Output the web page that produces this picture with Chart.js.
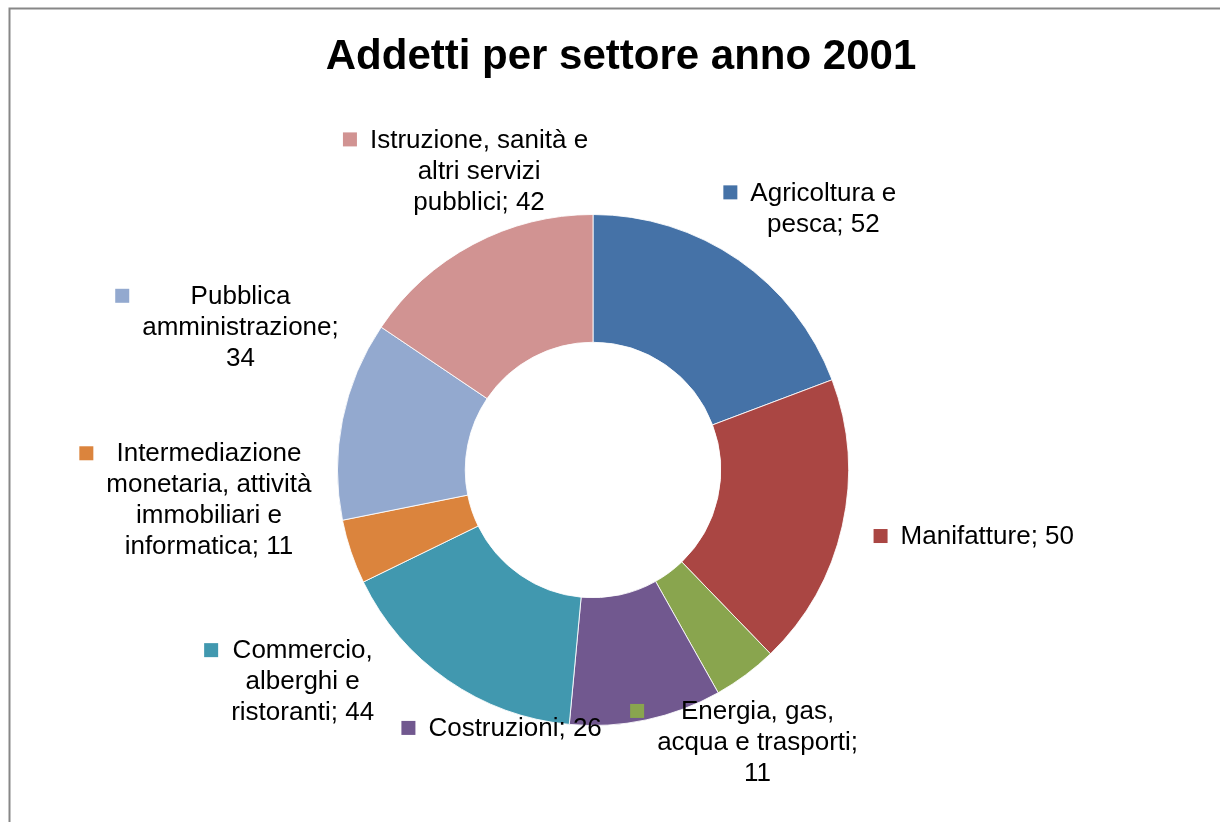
<!DOCTYPE html>
<html>
<head>
<meta charset="utf-8">
<script src="https://cdn.jsdelivr.net/npm/chart.js@4"></script>
<style>
  html, body { margin: 0; padding: 0; background: #fff; }
  #wrap { width: 1220px; height: 822px; position: relative; }
</style>
</head>
<body>
<div id="wrap"><canvas id="pieChart" width="1220" height="822"></canvas></div>
<script>
// Dati del grafico
const titleText = 'Addetti per settore anno 2001';
const categories = [
    'Agricoltura e pesca',
    'Manifatture',
    'Energia, gas, acqua e trasporti',
    'Costruzioni',
    'Commercio, alberghi e ristoranti',
    'Intermediazione monetaria, attività immobiliari e informatica',
    'Pubblica amministrazione',
    'Istruzione, sanità e altri servizi pubblici',
];
const values = [52, 50, 11, 26, 44, 11, 34, 42];
// etichette spezzate su piÃ¹ righe, {v} = valore
const labelLines = [
    ['Agricoltura e', 'pesca; {v}'],
    ['Manifatture; {v}'],
    ['Energia, gas,', 'acqua e trasporti;', '{v}'],
    ['Costruzioni; {v}'],
    ['Commercio,', 'alberghi e', 'ristoranti; {v}'],
    ['Intermediazione', 'monetaria, attività', 'immobiliari e', 'informatica; {v}'],
    ['Pubblica', 'amministrazione;', '{v}'],
    ['Istruzione, sanità e', 'altri servizi', 'pubblici; {v}'],
];
const colors = ['#4572A7', '#AA4643', '#89A54E', '#71588F', '#4198AF', '#DB843D', '#93A9CF', '#D19392'];

// spostamento delle etichette rispetto al bordo esterno della fetta
const labelOffsets = [[85, -52], [145, 10], [12, 67], [-131, 8], [-145, 1], [-142, -52], [-102, -93], [6, -74]];

const FONT = '"Liberation Sans", Arial, sans-serif';

const framePlugin = {
    id: 'frame',
    beforeDraw(chart) {
        const ctx = chart.ctx;
        ctx.save();
        ctx.strokeStyle = '#878787';
        ctx.lineWidth = 2;
        ctx.beginPath();
        ctx.moveTo(9.5, 822);
        ctx.lineTo(9.5, 8.5);
        ctx.lineTo(1220, 8.5);
        ctx.stroke();
        // titolo
        ctx.fillStyle = '#000';
        ctx.font = 'bold 42px ' + FONT;
        ctx.textAlign = 'center';
        ctx.textBaseline = 'alphabetic';
        ctx.fillText(titleText, 621, 69);
        ctx.restore();
    },
};

const labelPlugin = {
    id: 'outsideLabels',
    afterDatasetsDraw(chart) {
        const ctx = chart.ctx;
        const meta = chart.getDatasetMeta(0);
        const lineH = 31;
        ctx.save();
        ctx.font = '26px ' + FONT;
        ctx.textAlign = 'center';
        ctx.textBaseline = 'middle';
        meta.data.forEach((arc, i) => {
            const p = arc.getProps(['x', 'y', 'startAngle', 'endAngle', 'outerRadius'], true);
            const mid = (p.startAngle + p.endAngle) / 2;
            const cx = p.x + p.outerRadius * Math.cos(mid) + labelOffsets[i][0];
            const cy = p.y + p.outerRadius * Math.sin(mid) + labelOffsets[i][1];
            const lines = labelLines[i].map(l => l.replace('{v}', values[i]));
            const w = Math.max(...lines.map(l => ctx.measureText(l).width));
            const y0 = cy - (lines.length - 1) * lineH / 2;
            ctx.fillStyle = '#000';
            lines.forEach((l, j) => ctx.fillText(l, cx, y0 + j * lineH + 1));
            // quadratino della legenda
            ctx.fillStyle = colors[i];
            ctx.fillRect(cx - w / 2 - 13 - 14, y0 - 7, 14, 14);
        });
        ctx.restore();
    },
};

new Chart(document.getElementById('pieChart').getContext('2d'), {
    type: 'doughnut',
    data: {
        labels: categories,
        datasets: [{
            data: values,
            backgroundColor: colors,
            borderColor: 'rgba(255,255,255,0.85)',
            borderWidth: 1,
        }],
    },
    options: {
        responsive: false,
        animation: false,
        cutout: '50%',
        layout: { padding: { left: 337, right: 371, top: 214, bottom: 96 } },
        plugins: {
            legend: { display: false },
            title: { display: false },
            tooltip: { enabled: false },
        },
    },
    plugins: [framePlugin, labelPlugin],
});
</script>
</body>
</html>
